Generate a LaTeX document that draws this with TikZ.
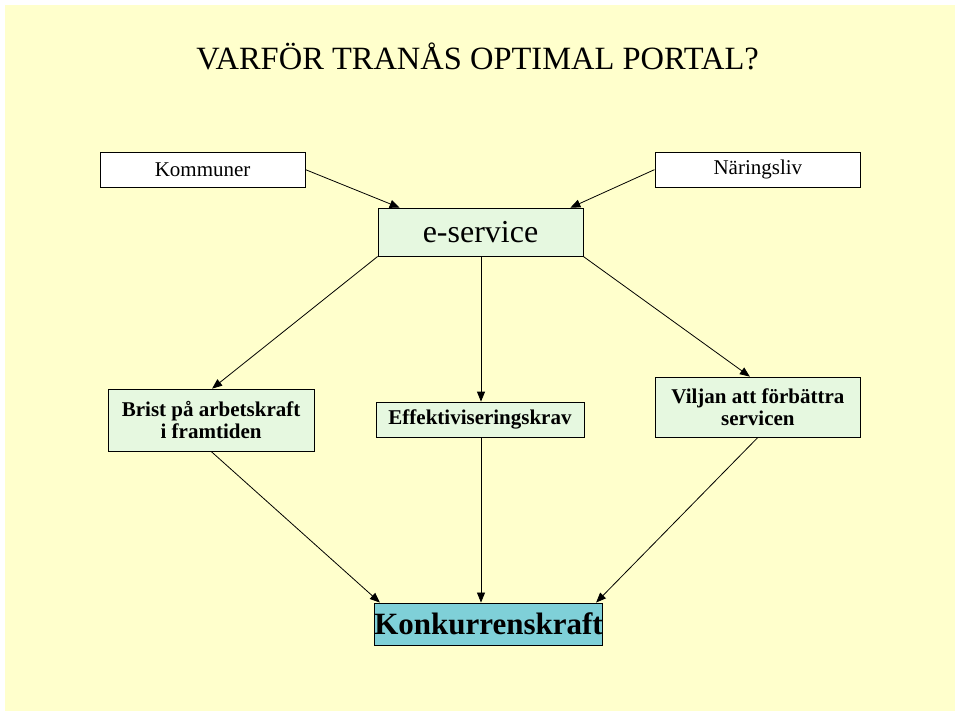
\documentclass[tikz,border=0pt]{standalone}
\usepackage{fontspec}
\setmainfont{Liberation Serif}
\usetikzlibrary{arrows.meta}
\definecolor{paper}{HTML}{FFFFCC}
\definecolor{mint}{HTML}{E6F8E0}
\definecolor{aquabox}{HTML}{7FD0D8}
\tikzset{
  box/.style={draw=black,thick,inner sep=0pt,align=center,font=\bfseries\fontsize{21}{22}\selectfont},
  arr/.style={-{Triangle[length=10pt,width=8pt]},thick}
}
\begin{document}
\begin{tikzpicture}[x=1pt,y=-1pt]
        % Draw paper background
        \draw[white,fill=white] (0,0) rectangle (960,716);
        \fill[paper] (5,5) rectangle (955,711);
        % Draw title
        \node[anchor=west,inner sep=0pt,font=\fontsize{32.5}{34}\selectfont] (title) at (196,56) {VARFÖR TRANÅS OPTIMAL PORTAL?};
        % Draw boxes
        \node[box,fill=white,font=\fontsize{21}{22}\selectfont,minimum width=205pt,minimum height=35pt] (kom) at (202.5,169.5) {Kommuner};
        \node[box,fill=white,font=\fontsize{21}{22}\selectfont,minimum width=206pt,minimum height=35pt] (nar) at (758,169.5) {Näringsliv};
        \node[box,fill=mint,font=\fontsize{32}{33}\selectfont,minimum width=205pt,minimum height=48pt] (eser) at (480.5,232) {e-service};
        \node[box,fill=mint,minimum width=206pt,minimum height=62pt] (brist) at (211,420) {Brist på arbetskraft\\i framtiden};
        \node[box,fill=mint,minimum width=208pt,minimum height=35pt] (eff) at (480,419.5) {Effektiviseringskrav};
        \node[box,fill=mint,minimum width=206pt,minimum height=60pt] (vil) at (758,407) {Viljan att förbättra\\servicen};
        \node[box,fill=aquabox,font=\bfseries\fontsize{31}{32}\selectfont,minimum width=221pt,minimum height=42pt] (konk) at (488.5,624) {Konkurrenskraft};
        % Draw arrows
        \draw[arr] (kom.east) -- ([xshift=22pt]eser.north west);
        \draw[arr] (nar.west) -- ([xshift=-13pt]eser.north east);
        \draw[arr] (eser.south west) -- ([xshift=1pt]brist.north);
        \draw[arr] ([xshift=0.5pt]eser.south) -- ([xshift=1pt]eff.north);
        \draw[arr] (eser.south east) -- ([xshift=-8pt]vil.north);
        \draw[arr] (brist.south) -- ([xshift=6pt]konk.north west);
        \draw[arr] ([xshift=1pt]eff.south) -- ([xshift=-7.5pt]konk.north);
        \draw[arr] (vil.south) -- ([xshift=-7pt]konk.north east);
\end{tikzpicture}
\end{document}
